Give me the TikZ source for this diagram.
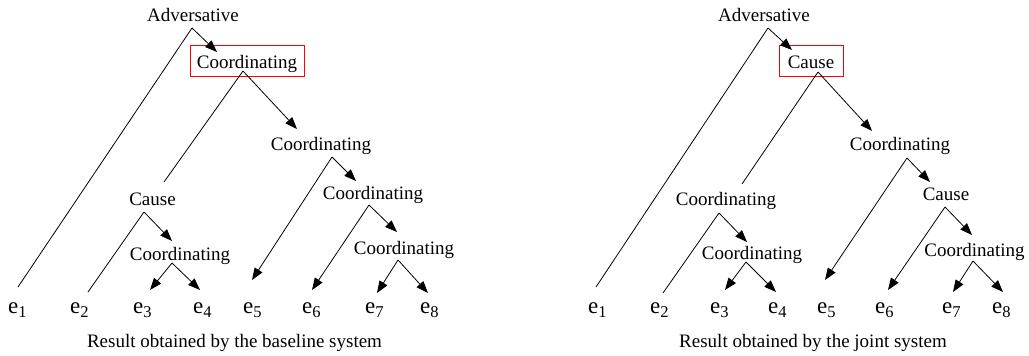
\documentclass[tikz,border=0pt]{standalone}
\usepackage{fontspec}
\setmainfont{Liberation Serif}
\usetikzlibrary{arrows.meta}

% leaf label e_i: large e with a lowered index
\newcommand{\leaf}[1]{{\fontsize{23}{23}\selectfont e}\raisebox{-4.5pt}{\fontsize{16.5}{16.5}\selectfont #1}}

\begin{document}
\begin{tikzpicture}[x=1pt,y=-1pt,
  lab/.style={inner sep=0pt,anchor=base,font=\fontsize{19}{21}\selectfont},
  hilite/.style={lab,draw=red,line width=0.9pt,text height=23pt,text depth=8pt},
  leafnode/.style={inner sep=0pt,anchor=base west},
  caption/.style={inner sep=0pt,anchor=base,font=\fontsize{19}{21}\selectfont},
  ln/.style={line width=0.8pt},
  arr/.style={ln,-{Triangle[length=12pt,width=9pt]}}]
\useasboundingbox (0,0) rectangle (1029,356);

% ---------------- baseline system ----------------
\node[lab] (advL) at (193,21) {Adversative};
\node[hilite,minimum width=114pt] (c1L) at (247,68) {Coordinating};
\node[lab] (c2L) at (321,150) {Coordinating};
\node[lab] (causeL) at (152.5,205) {Cause};
\node[lab] (c3L) at (180,260) {Coordinating};
\node[lab] (c4L) at (373,199) {Coordinating};
\node[lab] (c5L) at (404,254) {Coordinating};

\node[leafnode] (e1L) at (8,313) {\leaf{1}};
\node[leafnode] (e2L) at (70,313) {\leaf{2}};
\node[leafnode] (e3L) at (133,313) {\leaf{3}};
\node[leafnode] (e4L) at (193,313) {\leaf{4}};
\node[leafnode] (e5L) at (243,313) {\leaf{5}};
\node[leafnode] (e6L) at (302,313) {\leaf{6}};
\node[leafnode] (e7L) at (365,313) {\leaf{7}};
\node[leafnode] (e8L) at (420,313) {\leaf{8}};

\draw[ln]  ([shift={(-1,7)}]advL.base) -- ([shift={(10,-26)}]e1L.base west);
\draw[arr] ([shift={(-1,7)}]advL.base) -- ([shift={(-30,-16)}]c1L.base);
\draw[ln]  ([shift={(-4,3)}]c1L.base) -- ([shift={(11.5,-23)}]causeL.base);
\draw[arr] ([shift={(-4,3)}]c1L.base) -- ([shift={(-24,-21)}]c2L.base);
\draw[ln]  ([shift={(-8.5,7)}]causeL.base) -- ([shift={(18,-21)}]e2L.base west);
\draw[arr] ([shift={(-8.5,7)}]causeL.base) -- ([shift={(-8,-19)}]c3L.base);
\draw[arr] ([shift={(-8,3)}]c3L.base) -- ([shift={(17,-23)}]e3L.base west);
\draw[arr] ([shift={(-8,3)}]c3L.base) -- ([shift={(7,-23)}]e4L.base west);
\draw[arr] ([shift={(11,7)}]c2L.base) -- ([shift={(9,-33)}]e5L.base west);
\draw[arr] ([shift={(11,7)}]c2L.base) -- ([shift={(-17,-18)}]c4L.base);
\draw[arr] ([shift={(-4,6)}]c4L.base) -- ([shift={(10,-23)}]e6L.base west);
\draw[arr] ([shift={(-4,6)}]c4L.base) -- ([shift={(-7,-22)}]c5L.base);
\draw[arr] ([shift={(-6,6)}]c5L.base) -- ([shift={(12,-20)}]e7L.base west);
\draw[arr] ([shift={(-6,6)}]c5L.base) -- ([shift={(8,-20)}]e8L.base west);

\node[caption] (capL) at (234.5,347) {Result obtained by the baseline system};

% ---------------- joint system ----------------
\node[lab] (advR) at (764,21) {Adversative};
\node[hilite,minimum width=64pt] (causeR) at (811,68) {Cause};
\node[lab] (cLR) at (726,205) {Coordinating};
\node[lab] (c3R) at (752,259) {Coordinating};
\node[lab] (c2R) at (900,150) {Coordinating};
\node[lab] (cause2R) at (946,200) {Cause};
\node[lab] (c4R) at (974.5,256) {Coordinating};

\node[leafnode] (e1R) at (588,313) {\leaf{1}};
\node[leafnode] (e2R) at (650,313) {\leaf{2}};
\node[leafnode] (e3R) at (710,313) {\leaf{3}};
\node[leafnode] (e4R) at (768,313) {\leaf{4}};
\node[leafnode] (e5R) at (817,313) {\leaf{5}};
\node[leafnode] (e6R) at (875,313) {\leaf{6}};
\node[leafnode] (e7R) at (942,313) {\leaf{7}};
\node[leafnode] (e8R) at (992,313) {\leaf{8}};

\draw[ln]  ([shift={(4,7)}]advR.base) -- ([shift={(8,-26)}]e1R.base west);
\draw[arr] ([shift={(4,7)}]advR.base) -- ([shift={(-19,-18)}]causeR.base);
\draw[ln]  ([shift={(7,4)}]causeR.base) -- ([shift={(16,-21)}]cLR.base);
\draw[arr] ([shift={(7,4)}]causeR.base) -- ([shift={(-28,-19)}]c2R.base);
\draw[ln]  ([shift={(-7,8)}]cLR.base) -- ([shift={(13,-20)}]e2R.base west);
\draw[arr] ([shift={(-7,8)}]cLR.base) -- ([shift={(-5,-17)}]c3R.base);
\draw[arr] ([shift={(-6,3)}]c3R.base) -- ([shift={(15,-23)}]e3R.base west);
\draw[arr] ([shift={(-6,3)}]c3R.base) -- ([shift={(8,-21)}]e4R.base west);
\draw[arr] ([shift={(7,8)}]c2R.base) -- ([shift={(8,-33)}]e5R.base west);
\draw[arr] ([shift={(7,8)}]c2R.base) -- ([shift={(-16,-18)}]cause2R.base);
\draw[arr] ([shift={(-1,7)}]cause2R.base) -- ([shift={(13,-23)}]e6R.base west);
\draw[arr] ([shift={(-1,7)}]cause2R.base) -- ([shift={(-2.5,-21)}]c4R.base);
\draw[arr] ([shift={(-1.5,5)}]c4R.base) -- ([shift={(11,-21)}]e7R.base west);
\draw[arr] ([shift={(-1.5,5)}]c4R.base) -- ([shift={(11,-21)}]e8R.base west);

\node[caption] (capR) at (813,347) {Result obtained by the joint system};
\end{tikzpicture}
\end{document}
